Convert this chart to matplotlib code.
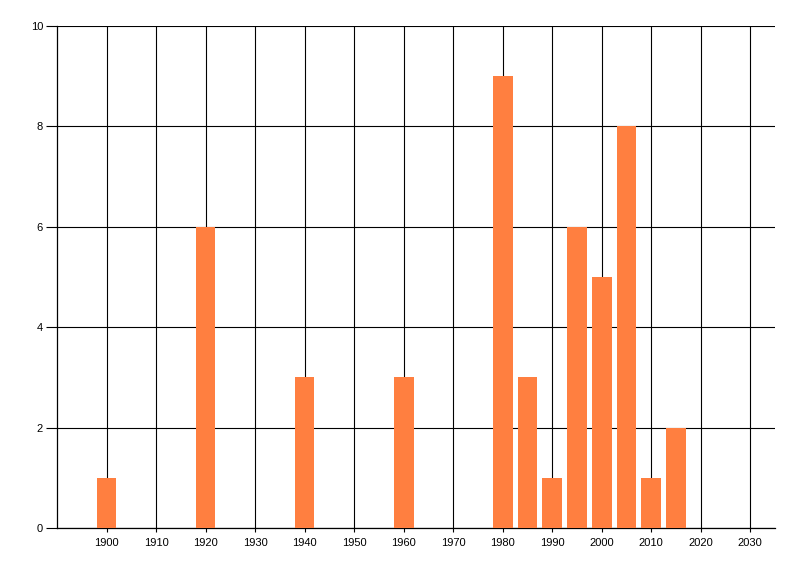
import matplotlib

matplotlib.use("Agg")
import matplotlib.pyplot as plt

years = [1900, 1920, 1940, 1960, 1980, 1985, 1990, 1995, 2000, 2005, 2010, 2015]
counts = [1, 6, 3, 3, 9, 3, 1, 6, 5, 8, 1, 2]
x_ticks = list(range(1900, 2031, 10))
y_ticks = [0, 2, 4, 6, 8, 10]

plt.rcParams["font.family"] = ["Liberation Sans", "DejaVu Sans"]

fig = plt.figure(figsize=(8.0, 5.76), dpi=100)
fig.patch.set_facecolor("white")
# axes box in pixels: left 57, right 775, top 26, bottom 528
ax = fig.add_axes([57 / 800, 1 - 528 / 576, (775 - 57) / 800, (528 - 26) / 576])

ax.bar(years, counts, width=4, color="#FF7F40", zorder=3)

ax.set_xlim(1890, 2035)
ax.set_ylim(0, 10)
ax.set_xticks(x_ticks)
ax.set_yticks(y_ticks)

ax.grid(True, color="black", linewidth=0.8, zorder=0)
ax.set_axisbelow(True)

for side in ("top", "right"):
    ax.spines[side].set_visible(False)
for side in ("left", "bottom"):
    ax.spines[side].set_linewidth(0.9)
    ax.spines[side].set_color("black")

ax.tick_params(axis="x", length=3, width=0.8, pad=4, labelsize=8, colors="black")
ax.tick_params(axis="y", length=8, width=0.8, pad=2, labelsize=8, colors="black")

fig.savefig("out.png", dpi=100, facecolor="white")
